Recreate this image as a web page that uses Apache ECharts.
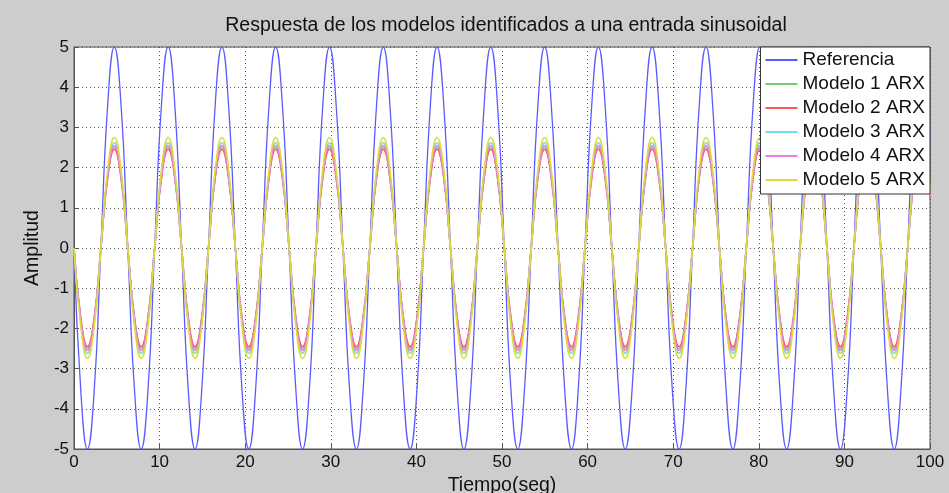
<!DOCTYPE html>
<html>
<head>
<meta charset="utf-8">
<script src="https://cdn.jsdelivr.net/npm/echarts@6/dist/echarts.min.js"></script>
<style>html,body{margin:0;padding:0;background:#cdcdcd;}#c{width:949px;height:493px;}</style>
</head>
<body>
<div id="c"></div>
<script>
var titleText = 'Respuesta de los modelos identificados a una entrada sinusoidal';
var seriesNames = ['Referencia','Modelo 1 ARX','Modelo 2 ARX','Modelo 3 ARX','Modelo 4 ARX','Modelo 5 ARX'];
var xTicks = [0,10,20,30,40,50,60,70,80,90,100];
var yTicks = [-5,-4,-3,-2,-1,0,1,2,3,4,5];

var times = [0,0.79,1.57,2.36,3.14,3.93,4.71,5.50,
6.28,7.07,7.85,8.64,9.42,10.21,11.00,11.78,
12.57,13.35,14.14,14.92,15.71,16.49,17.28,18.06,
18.85,19.63,20.42,21.21,21.99,22.78,23.56,24.35,
25.13,25.92,26.70,27.49,28.27,29.06,29.85,30.63,
31.42,32.20,32.99,33.77,34.56,35.34,36.13,36.91,
37.70,38.48,39.27,40.06,40.84,41.63,42.41,43.20,
43.98,44.77,45.55,46.34,47.12,47.91,48.69,49.48,
50.27,51.05,51.84,52.62,53.41,54.19,54.98,55.76,
56.55,57.33,58.12,58.90,59.69,60.48,61.26,62.05,
62.83,63.62,64.40,65.19,65.97,66.76,67.54,68.33,
69.12,69.90,70.69,71.47,72.26,73.04,73.83,74.61,
75.40,76.18,76.97,77.75,78.54,79.33,80.11,80.90,
81.68,82.47,83.25,84.04,84.82,85.61,86.39,87.18,
87.96,88.75,89.54,90.32,91.11,91.89,92.68,93.46,
94.25,95.03,95.82,96.60,97.39,98.17,98.96,99.75,100];

var referencia = [
0,-3.54,-5,-3.54,0,3.54,5,3.54,
0,-3.54,-5,-3.54,0,3.54,5,3.54,
0,-3.54,-5,-3.54,0,3.54,5,3.54,
0,-3.54,-5,-3.54,0,3.54,5,3.54,
0,-3.54,-5,-3.54,0,3.54,5,3.54,
0,-3.54,-5,-3.54,0,3.54,5,3.54,
0,-3.54,-5,-3.54,0,3.54,5,3.54,
0,-3.54,-5,-3.54,0,3.54,5,3.54,
0,-3.54,-5,-3.54,0,3.54,5,3.54,
0,-3.54,-5,-3.54,0,3.54,5,3.54,
0,-3.54,-5,-3.54,0,3.54,5,3.54,
0,-3.54,-5,-3.54,0,3.54,5,3.54,
0,-3.54,-5,-3.54,0,3.54,5,3.54,
0,-3.54,-5,-3.54,0,3.54,5,3.54,
0,-3.54,-5,-3.54,0,3.54,5,3.54,
0,-3.54,-5,-3.54,0,3.54,5,3.54,2.53];

var modelo1 = [
0,-1.77,-2.5,-1.77,0,1.77,2.5,1.77,
0,-1.77,-2.5,-1.77,0,1.77,2.5,1.77,
0,-1.77,-2.5,-1.77,0,1.77,2.5,1.77,
0,-1.77,-2.5,-1.77,0,1.77,2.5,1.77,
0,-1.77,-2.5,-1.77,0,1.77,2.5,1.77,
0,-1.77,-2.5,-1.77,0,1.77,2.5,1.77,
0,-1.77,-2.5,-1.77,0,1.77,2.5,1.77,
0,-1.77,-2.5,-1.77,0,1.77,2.5,1.77,
0,-1.77,-2.5,-1.77,0,1.77,2.5,1.77,
0,-1.77,-2.5,-1.77,0,1.77,2.5,1.77,
0,-1.77,-2.5,-1.77,0,1.77,2.5,1.77,
0,-1.77,-2.5,-1.77,0,1.77,2.5,1.77,
0,-1.77,-2.5,-1.77,0,1.77,2.5,1.77,
0,-1.77,-2.5,-1.77,0,1.77,2.5,1.77,
0,-1.77,-2.5,-1.77,0,1.77,2.5,1.77,
0,-1.77,-2.5,-1.77,0,1.77,2.5,1.77,1.27];

var modelo2 = [
0,-1.73,-2.45,-1.73,0,1.73,2.45,1.73,
0,-1.73,-2.45,-1.73,0,1.73,2.45,1.73,
0,-1.73,-2.45,-1.73,0,1.73,2.45,1.73,
0,-1.73,-2.45,-1.73,0,1.73,2.45,1.73,
0,-1.73,-2.45,-1.73,0,1.73,2.45,1.73,
0,-1.73,-2.45,-1.73,0,1.73,2.45,1.73,
0,-1.73,-2.45,-1.73,0,1.73,2.45,1.73,
0,-1.73,-2.45,-1.73,0,1.73,2.45,1.73,
0,-1.73,-2.45,-1.73,0,1.73,2.45,1.73,
0,-1.73,-2.45,-1.73,0,1.73,2.45,1.73,
0,-1.73,-2.45,-1.73,0,1.73,2.45,1.73,
0,-1.73,-2.45,-1.73,0,1.73,2.45,1.73,
0,-1.73,-2.45,-1.73,0,1.73,2.45,1.73,
0,-1.73,-2.45,-1.73,0,1.73,2.45,1.73,
0,-1.73,-2.45,-1.73,0,1.73,2.45,1.73,
0,-1.73,-2.45,-1.73,0,1.73,2.45,1.73,1.24];

var modelo3 = [
0,-1.85,-2.62,-1.85,0,1.85,2.62,1.85,
0,-1.85,-2.62,-1.85,0,1.85,2.62,1.85,
0,-1.85,-2.62,-1.85,0,1.85,2.62,1.85,
0,-1.85,-2.62,-1.85,0,1.85,2.62,1.85,
0,-1.85,-2.62,-1.85,0,1.85,2.62,1.85,
0,-1.85,-2.62,-1.85,0,1.85,2.62,1.85,
0,-1.85,-2.62,-1.85,0,1.85,2.62,1.85,
0,-1.85,-2.62,-1.85,0,1.85,2.62,1.85,
0,-1.85,-2.62,-1.85,0,1.85,2.62,1.85,
0,-1.85,-2.62,-1.85,0,1.85,2.62,1.85,
0,-1.85,-2.62,-1.85,0,1.85,2.62,1.85,
0,-1.85,-2.62,-1.85,0,1.85,2.62,1.85,
0,-1.85,-2.62,-1.85,0,1.85,2.62,1.85,
0,-1.85,-2.62,-1.85,0,1.85,2.62,1.85,
0,-1.85,-2.62,-1.85,0,1.85,2.62,1.85,
0,-1.85,-2.62,-1.85,0,1.85,2.62,1.85,1.33];

var modelo4 = [
0,-1.80,-2.55,-1.80,0,1.80,2.55,1.80,
0,-1.80,-2.55,-1.80,0,1.80,2.55,1.80,
0,-1.80,-2.55,-1.80,0,1.80,2.55,1.80,
0,-1.80,-2.55,-1.80,0,1.80,2.55,1.80,
0,-1.80,-2.55,-1.80,0,1.80,2.55,1.80,
0,-1.80,-2.55,-1.80,0,1.80,2.55,1.80,
0,-1.80,-2.55,-1.80,0,1.80,2.55,1.80,
0,-1.80,-2.55,-1.80,0,1.80,2.55,1.80,
0,-1.80,-2.55,-1.80,0,1.80,2.55,1.80,
0,-1.80,-2.55,-1.80,0,1.80,2.55,1.80,
0,-1.80,-2.55,-1.80,0,1.80,2.55,1.80,
0,-1.80,-2.55,-1.80,0,1.80,2.55,1.80,
0,-1.80,-2.55,-1.80,0,1.80,2.55,1.80,
0,-1.80,-2.55,-1.80,0,1.80,2.55,1.80,
0,-1.80,-2.55,-1.80,0,1.80,2.55,1.80,
0,-1.80,-2.55,-1.80,0,1.80,2.55,1.80,1.29];

var modelo5 = [
0,-1.94,-2.75,-1.94,0,1.94,2.75,1.94,
0,-1.94,-2.75,-1.94,0,1.94,2.75,1.94,
0,-1.94,-2.75,-1.94,0,1.94,2.75,1.94,
0,-1.94,-2.75,-1.94,0,1.94,2.75,1.94,
0,-1.94,-2.75,-1.94,0,1.94,2.75,1.94,
0,-1.94,-2.75,-1.94,0,1.94,2.75,1.94,
0,-1.94,-2.75,-1.94,0,1.94,2.75,1.94,
0,-1.94,-2.75,-1.94,0,1.94,2.75,1.94,
0,-1.94,-2.75,-1.94,0,1.94,2.75,1.94,
0,-1.94,-2.75,-1.94,0,1.94,2.75,1.94,
0,-1.94,-2.75,-1.94,0,1.94,2.75,1.94,
0,-1.94,-2.75,-1.94,0,1.94,2.75,1.94,
0,-1.94,-2.75,-1.94,0,1.94,2.75,1.94,
0,-1.94,-2.75,-1.94,0,1.94,2.75,1.94,
0,-1.94,-2.75,-1.94,0,1.94,2.75,1.94,
0,-1.94,-2.75,-1.94,0,1.94,2.75,1.94,1.39];

var allValues = [referencia, modelo1, modelo2, modelo3, modelo4, modelo5];
var colors = ['#5a5aff','#6fcf6f','#ff5a5a','#6ee0e0','#ee7cee','#dcdc3c'];
var widths = [1.3,1.6,1.6,1.6,1.6,1.6];

var FONT = '"Liberation Sans", Arial, sans-serif';
var chart = echarts.init(document.getElementById('c'), null, {renderer:'canvas'});

var series = allValues.map(function(vals, si){
  return {
    name: seriesNames[si],
    type: 'line',
    data: times.map(function(t, i){ return [t, vals[i]]; }),
    smooth: 0.5,
    showSymbol: false,
    symbol: 'none',
    lineStyle: {color: colors[si], width: widths[si]},
    itemStyle: {color: colors[si]},
    animation: false
  };
});

chart.setOption({
  backgroundColor: '#cdcdcd',
  animation: false,
  title: {
    text: titleText,
    left: 501, top: 11, textAlign: 'center',
    textStyle: {fontFamily: FONT, fontSize: 19.5, fontWeight: 'normal', color: '#111'}
  },
  grid: {
    left: 74, right: 19, top: 47, bottom: 44,
    show: true, backgroundColor: '#ffffff', borderColor: '#555', borderWidth: 1,
    containLabel: false,
    outerBoundsMode: 'none'
  },
  legend: {
    orient: 'vertical',
    right: 19, top: 47,
    z: 20,
    data: seriesNames,
    backgroundColor: '#ffffff',
    borderColor: '#333', borderWidth: 1,
    padding: [3, 5, 4, 5],
    itemWidth: 32, itemHeight: 14, itemGap: 4,
    icon: 'path://M0,6 L32,6 L32,8 L0,8 Z',
    textStyle: {fontFamily: FONT, fontSize: 19, lineHeight: 20, color: '#111'},
    selectedMode: false
  },
  xAxis: {
    type: 'value', min: 0, max: 100, interval: 10,
    name: 'Tiempo(seg)', nameLocation: 'middle', nameGap: 22,
    nameTextStyle: {fontFamily: FONT, fontSize: 19.5, color: '#111'},
    axisLine: {show: true, onZero: false, lineStyle: {color: '#555', width: 1}},
    axisTick: {show: true, inside: true, length: 5, lineStyle: {color: '#555'}},
    axisLabel: {fontFamily: FONT, fontSize: 17, color: '#111', margin: 5,
      formatter: function(v){ return xTicks.indexOf(v) >= 0 ? String(v) : ''; }},
    splitLine: {show: true, lineStyle: {color: '#555', type: [1,3], width: 1}}
  },
  yAxis: {
    type: 'value', min: -5, max: 5, interval: 1,
    name: 'Amplitud', nameLocation: 'middle', nameGap: 26, nameRotate: 90,
    nameTextStyle: {fontFamily: FONT, fontSize: 19.5, color: '#111'},
    axisLine: {show: true, onZero: false, lineStyle: {color: '#555', width: 1}},
    axisTick: {show: true, inside: true, length: 5, lineStyle: {color: '#555'}},
    axisLabel: {fontFamily: FONT, fontSize: 17, color: '#111', margin: 5,
      formatter: function(v){ return yTicks.indexOf(v) >= 0 ? String(v) : ''; }},
    splitLine: {show: true, lineStyle: {color: '#555', type: [1,3], width: 1}}
  },
  series: series
});
</script>
</body>
</html>
